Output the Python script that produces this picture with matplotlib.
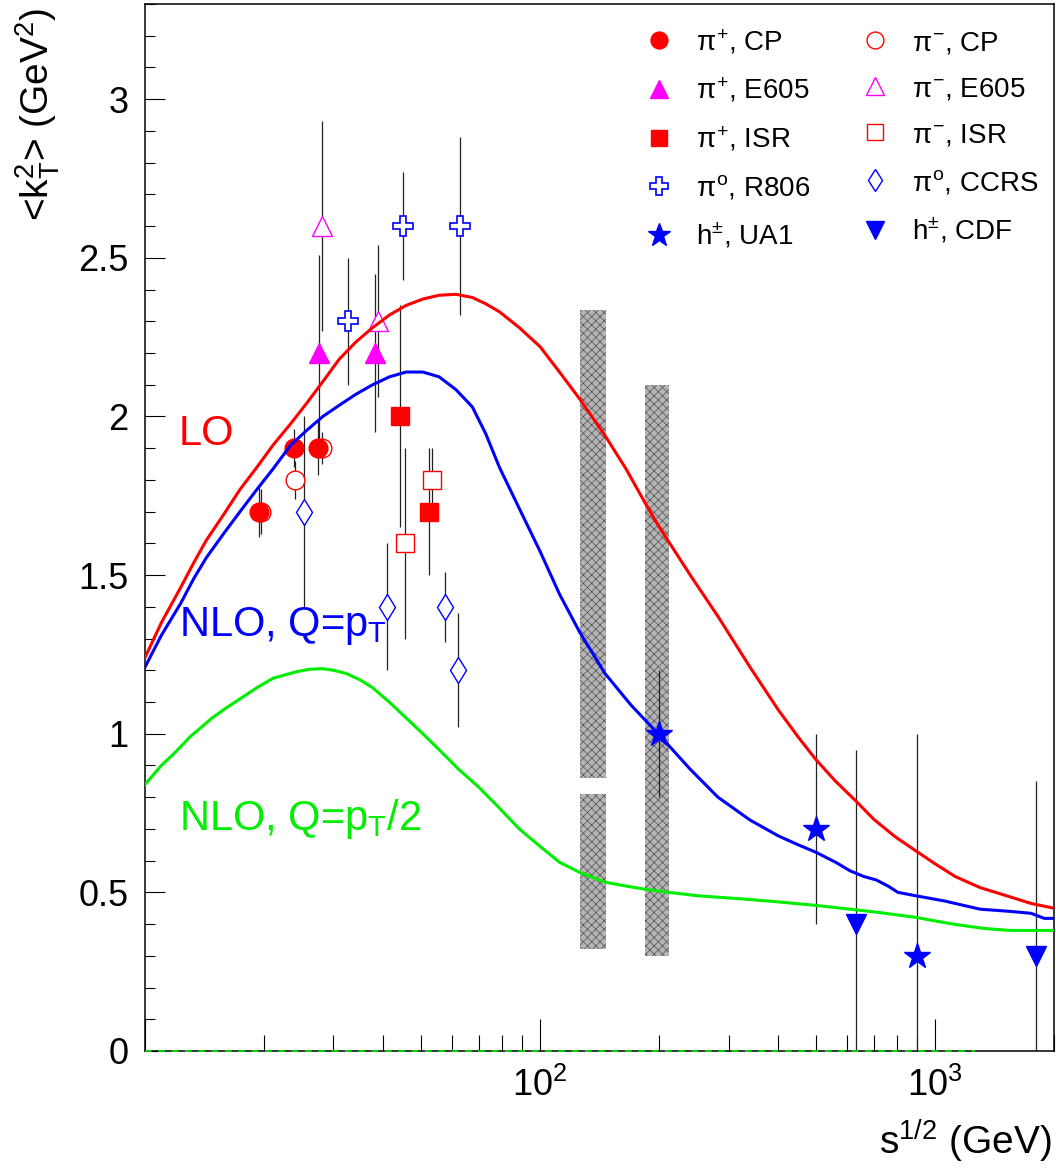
import math
import matplotlib
matplotlib.use("Agg")
import matplotlib.pyplot as plt
from matplotlib.ticker import LogLocator, MultipleLocator, FixedLocator, NullFormatter, FuncFormatter

plt.rcParams['font.family'] = ['Liberation Sans', 'DejaVu Sans']
plt.rcParams['mathtext.fontset'] = 'custom'
plt.rcParams['mathtext.rm'] = 'Liberation Sans'
plt.rcParams['mathtext.it'] = 'Liberation Sans'
plt.rcParams['mathtext.bf'] = 'Liberation Sans:bold'
plt.rcParams['hatch.linewidth'] = 0.5

# --- theory curves: <kT^2> vs sqrt(s) ---
lo_x = [10, 11, 12.3, 13.3, 14.3, 15.8, 17.4, 19.2, 21.1, 23.3, 25.6, 28.2, 31.0, 34.2, 37.7,
        41.6, 45.8, 50.5, 55.5, 61.2, 67.4, 72.9, 78.9, 88.6, 100, 112, 126, 146, 165, 184,
        199, 240, 282, 340, 401, 450, 498, 560, 628, 700, 793, 896, 1000, 1124, 1300, 1556,
        1750, 2000]
lo_y = [1.24, 1.35, 1.46, 1.54, 1.61, 1.69, 1.77, 1.84, 1.91, 1.975, 2.04, 2.11, 2.18, 2.235, 2.28,
        2.32, 2.35, 2.37, 2.382, 2.385, 2.375, 2.355, 2.33, 2.28, 2.22, 2.14, 2.055, 1.94, 1.835, 1.73,
        1.657, 1.50, 1.37, 1.21, 1.075, 0.99, 0.92, 0.85, 0.79, 0.73, 0.675, 0.63, 0.59, 0.55, 0.515, 0.485,
        0.465, 0.45]

nlo_x = [10, 11, 12.3, 13.3, 14.3, 15.8, 17.4, 19.2, 21.1, 23.4, 25.6, 28.2, 31.0, 34.2, 37.7,
         41.6, 45.8, 50.5, 55.5, 61.2, 67.4, 72.9, 78.9, 88.6, 100, 112, 126, 146, 170, 199,
         240, 282, 340, 401, 450, 498, 560, 609, 660, 710, 760, 805, 896, 1055, 1300, 1550,
         1750, 1890, 2000]
nlo_y = [1.21, 1.31, 1.41, 1.49, 1.555, 1.63, 1.70, 1.77, 1.835, 1.91, 1.955, 2.00, 2.035, 2.07, 2.10,
         2.125, 2.14, 2.14, 2.125, 2.085, 2.03, 1.945, 1.84, 1.71, 1.575, 1.44, 1.32, 1.19, 1.09, 1.00,
         0.888, 0.80, 0.728, 0.678, 0.65, 0.627, 0.595, 0.568, 0.55, 0.539, 0.52, 0.50, 0.489, 0.473, 0.447,
         0.44, 0.434, 0.418, 0.418]

nlo2_x = [10, 11, 11.9, 13, 14.8, 16, 17.4, 19.2, 21.1, 24.1, 26, 28.2, 30, 32.3, 35, 37.7, 41.5,
          45.8, 50.5, 55.5, 62, 70.2, 79, 88.6, 100, 112, 126, 146, 165, 184, 212, 252, 320,
          401, 498, 600, 717, 896, 1000, 1124, 1336, 1550, 1743, 2000]
nlo2_y = [0.84, 0.90, 0.94, 0.99, 1.05, 1.08, 1.11, 1.145, 1.175, 1.195, 1.203, 1.205, 1.20, 1.19,
          1.17, 1.145, 1.10, 1.05, 1.00, 0.95, 0.89, 0.83, 0.765, 0.70, 0.645, 0.595, 0.563, 0.532,
          0.52, 0.51, 0.50, 0.489, 0.48, 0.47, 0.459, 0.448, 0.437, 0.421, 0.41, 0.399, 0.386, 0.38,
          0.38, 0.38]

# --- measurements ---
pip_cp_x = [19.4, 23.8, 27.4]
pip_cp_y = [1.70, 1.90, 1.90]
pip_cp_e = [0.08, 0.06, 0.085]
pim_cp_x = [19.7, 24.0, 28.1]
pim_cp_y = [1.70, 1.80, 1.90]
pim_cp_e = [0.07, 0.06, 0.05]

pip_e605_x = [27.5, 38.3]
pip_e605_y = [2.20, 2.20]
pip_e605_e = [0.31, 0.25]
pim_e605_x = [28.0, 39.0]
pim_e605_y = [2.60, 2.30]
pim_e605_e = [0.33, 0.24]

pip_isr_x = [44.3, 52.5]
pip_isr_y = [2.00, 1.70]
pip_isr_e = [0.35, 0.20]
pim_isr_x = [45.4, 53.3]
pim_isr_y = [1.60, 1.80]
pim_isr_e = [0.30, 0.10]

r806_x = [32.6, 44.9, 62.8]
r806_y = [2.30, 2.60, 2.60]
r806_e = [0.20, 0.17, 0.28]
ccrs_x = [25.2, 41.1, 57.5, 62.1]
ccrs_y = [1.70, 1.40, 1.40, 1.20]
ccrs_e = [0.30, 0.20, 0.11, 0.18]

ua1_x = [200, 500, 900]
ua1_y = [1.00, 0.70, 0.30]
ua1_e = [0.20, 0.30, 0.70]
cdf_x = [630, 1800]
cdf_y = [0.40, 0.30]
cdf_e = [0.55, 0.55]

# shaded ranges (x low, x high, y low, y high)
band_xlo = [126, 126, 184]
band_xhi = [147, 147, 212]
band_ylo = [0.86, 0.32, 0.30]
band_yhi = [2.335, 0.81, 2.10]

RED = '#ff0000'
MAG = '#ff00ff'
BLUE = '#0000ff'
GREEN = '#00ee00'

fig = plt.figure(figsize=(10.56, 11.69), dpi=100)
ax = fig.add_axes([145/1056, 118/1169, 909/1056, 1047/1169])
ax.set_xscale('log')
ax.set_xlim(10, 2000)
ax.set_ylim(0, 3.3)

for xl, xh, yl, yh in zip(band_xlo, band_xhi, band_ylo, band_yhi):
    ax.fill_between([xl, xh], yl, yh, facecolor='#b4b4b4', edgecolor='#505050',
                    hatch='xxxx', linewidth=0, zorder=1)

# error bars
for xs, ys, es in [(pip_cp_x, pip_cp_y, pip_cp_e), (pim_cp_x, pim_cp_y, pim_cp_e),
                   (pip_e605_x, pip_e605_y, pip_e605_e), (pim_e605_x, pim_e605_y, pim_e605_e),
                   (pip_isr_x, pip_isr_y, pip_isr_e), (pim_isr_x, pim_isr_y, pim_isr_e),
                   (r806_x, r806_y, r806_e), (ccrs_x, ccrs_y, ccrs_e),
                   (ua1_x, ua1_y, ua1_e), (cdf_x, cdf_y, cdf_e)]:
    ax.errorbar(xs, ys, yerr=es, fmt='none', ecolor='#222222', elinewidth=0.9, capsize=0, zorder=2)

# open markers first, filled ones on top
h_pim_cp, = ax.plot(pim_cp_x, pim_cp_y, 'o', ms=13.5, mfc='white', mec=RED, mew=1.0, ls='none', zorder=3)
h_pim_e605, = ax.plot(pim_e605_x, pim_e605_y, '^', ms=14, mfc='white', mec=MAG, mew=1.0, ls='none', zorder=3)
h_pim_isr, = ax.plot(pim_isr_x, pim_isr_y, 's', ms=13.5, mfc='white', mec=RED, mew=1.0, ls='none', zorder=3)
h_r806, = ax.plot(r806_x, r806_y, 'P', ms=14, mfc='white', mec=BLUE, mew=1.2, ls='none', zorder=3)
h_ccrs, = ax.plot(ccrs_x, ccrs_y, 'd', ms=13, mfc='white', mec=BLUE, mew=1.0, ls='none', zorder=3)

h_pip_cp, = ax.plot(pip_cp_x, pip_cp_y, 'o', ms=13.5, color=RED, ls='none', zorder=4)
h_pip_e605, = ax.plot(pip_e605_x, pip_e605_y, '^', ms=14, color=MAG, ls='none', zorder=4)
h_pip_isr, = ax.plot(pip_isr_x, pip_isr_y, 's', ms=13.5, color=RED, ls='none', zorder=4)
h_ua1, = ax.plot(ua1_x, ua1_y, '*', ms=19, color=BLUE, ls='none', zorder=4)
h_cdf, = ax.plot(cdf_x, cdf_y, 'v', ms=14, color=BLUE, ls='none', zorder=4)

# theory curves
ax.plot(lo_x, lo_y, color=RED, lw=2.2, zorder=5)
ax.plot(nlo_x, nlo_y, color=BLUE, lw=2.2, zorder=5)
ax.plot(nlo2_x, nlo2_y, color=GREEN, lw=2.2, zorder=5)
ax.plot([10, 1260], [0, 0], color=GREEN, lw=1.2, ls=(0, (4, 4)), zorder=6, clip_on=False)

ax.text(12.2, 1.945, 'LO', color=RED, fontsize=30, va='center', ha='left')
ax.text(12.2, 1.34, 'NLO, Q=p$_T$', color=BLUE, fontsize=30, va='center', ha='left')
ax.text(12.2, 0.73, 'NLO, Q=p$_T$/2', color=GREEN, fontsize=30, va='center', ha='left')

# axes styling
for sp in ax.spines.values():
    sp.set_linewidth(1.1)
ax.xaxis.set_major_locator(FixedLocator([10, 100, 1000]))
ax.xaxis.set_minor_locator(LogLocator(base=10, subs=range(2, 10), numticks=20))
ax.xaxis.set_major_formatter(FuncFormatter(lambda v, p: '' if v < 50 else '10$^{%d}$' % round(math.log10(v))))
ax.xaxis.set_minor_formatter(NullFormatter())
ax.yaxis.set_major_locator(MultipleLocator(0.5))
ax.yaxis.set_minor_locator(MultipleLocator(0.1))
ax.yaxis.set_major_formatter(FuncFormatter(lambda v, p: '%g' % v))
ax.tick_params(axis='x', which='major', direction='in', length=23, width=0.8, labelsize=26, pad=12)
ax.tick_params(axis='x', which='minor', direction='in', length=11.5, width=0.8)
ax.tick_params(axis='y', which='major', direction='in', length=14.4, width=0.8, labelsize=26, pad=12)
ax.tick_params(axis='y', which='minor', direction='in', length=7.2, width=0.8)
ax.tick_params(top=False, right=False, which='both')

fig.text(1052/1056, (1169-1155)/1169, 's$^{1/2}$ (GeV)', fontsize=28, ha='right', va='baseline')
fig.text(38/1056, (1169-8)/1169, '<k$_{T}^{2}$> (GeV$^{2}$)', fontsize=28, rotation=90,
         ha='center', va='top')

handles = [h_pip_cp, h_pip_e605, h_pip_isr, h_r806, h_ua1,
           h_pim_cp, h_pim_e605, h_pim_isr, h_ccrs, h_cdf]
labels = ['$\\pi^{+}$, CP', '$\\pi^{+}$, E605', '$\\pi^{+}$, ISR', '$\\pi^{o}$, R806', 'h$^{\\pm}$, UA1',
          '$\\pi^{-}$, CP', '$\\pi^{-}$, E605', '$\\pi^{-}$, ISR', '$\\pi^{o}$, CCRS', 'h$^{\\pm}$, CDF']
ax.legend(handles, labels, ncol=2, loc='upper left', bbox_to_anchor=(0.5195, 1.0015), frameon=False,
          fontsize=20, handlelength=1.2, handletextpad=0.73, columnspacing=1.72, labelspacing=0.72,
          markerscale=0.9)

fig.savefig('out.png', dpi=100)
